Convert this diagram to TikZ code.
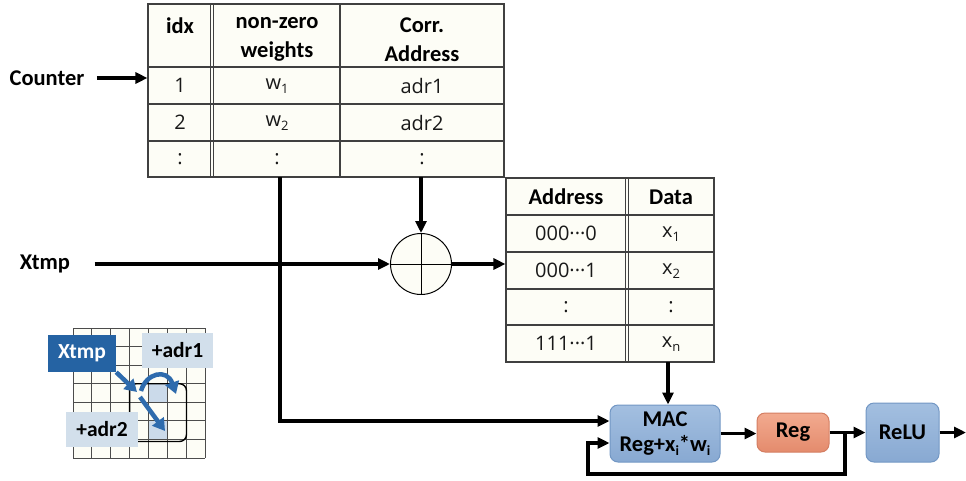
\documentclass[tikz,border=0pt]{standalone}
\usepackage{fontspec}
\setmainfont{Carlito}
\newfontfamily\bodyfont{Open Sans}
\usetikzlibrary{arrows.meta}
\definecolor{gridline}{HTML}{404040}
\definecolor{cellbg}{HTML}{FDFDF6}
\definecolor{macedge}{HTML}{7297C4}
\definecolor{mactop}{HTML}{A3BFE0}
\definecolor{macbot}{HTML}{88A9D2}
\definecolor{regedge}{HTML}{D47E62}
\definecolor{regtop}{HTML}{F2AA8F}
\definecolor{regbot}{HTML}{E48B6D}
\definecolor{xtmpblue}{HTML}{2563A3}
\definecolor{adrbg}{HTML}{D2DFEB}
\definecolor{cellshade}{HTML}{CBDAEA}
\definecolor{flow}{HTML}{2E6BAD}
\newcommand\lowsub[1]{\raisebox{-4pt}{\fontsize{13}{13}\selectfont #1}}
\newcommand\boldsub[1]{\raisebox{-4pt}{\fontsize{14}{14}\selectfont #1}}
\begin{document}
\begin{tikzpicture}[x=1pt,y=-1pt,
  conn/.style={line width=3.2pt, -{Triangle[length=12pt,width=11pt]}},
  tbl/.style={draw=gridline, line width=1.1pt, fill=cellbg, inner sep=0pt},
  gridln/.style={draw=gridline, line width=1.1pt},
  head/.style={font=\bfseries\fontsize{22.5}{29}\selectfont, align=center},
  cell/.style={font=\bodyfont\fontsize{20}{22}\selectfont, text=black!90},
  lbl/.style={font=\bfseries\fontsize{22.5}{24}\selectfont},
  block/.style={rounded corners=8pt, line width=1pt, inner sep=0pt,
    font=\bfseries\fontsize{22.5}{27}\selectfont, align=center},
  insetgrid/.style={draw=black!70, line width=0.8pt},
  tag/.style={inner sep=0pt, font=\bfseries\fontsize{21.5}{24}\selectfont},
  flowarrow/.style={draw=flow, line width=4.5pt, -{Triangle[length=12pt,width=14pt]}},
]
\useasboundingbox (0,0) rectangle (966,480);

% ---- weight table ----
\node[tbl, minimum width=356pt, minimum height=173pt] (wt) at (326,90.5) {};
\foreach \yy in {67,104,141} \draw[gridln] (148,\yy) -- (504,\yy);
\draw[gridln] (210.5,4) -- (210.5,177);
\draw[gridln] (213.5,4) -- (213.5,177);
\draw[gridln] (340,4) -- (340,177);
\node[head, anchor=north] (hidx) at (180,14) {idx};
\node[head, anchor=north] (hw) at (277,14) {non-zero\\weights};
\node[head, anchor=north] (hadr) at (422,14) {Corr.\\Address};
\node[cell] (i1) at (180,85.5) {1};
\node[cell] (w1) at (277,86.5) {w\lowsub{1}};
\node[cell] (a1) at (422,85.5) {adr1};
\node[cell] (i2) at (180,122.5) {2};
\node[cell] (w2) at (277,123.5) {w\lowsub{2}};
\node[cell] (a2) at (422,122.5) {adr2};
\node[cell] (i3) at (180,159) {:};
\node[cell] (w3) at (277,159) {:};
\node[cell] (a3) at (422,159) {:};

% ---- counter input ----
\node[lbl] (counter) at (47,78) {Counter};
\draw[conn] ([xshift=9pt]counter.east) -- (counter.east -| wt.west);

% ---- address adder ----
\node[circle, draw, line width=1pt, fill=cellbg, minimum size=61pt, inner sep=0pt] (adder) at (421,264) {};
\draw[line width=0.9pt] (adder.north) -- (adder.south);
\draw[line width=0.9pt] (adder.west) -- (adder.east);
\coordinate (aout) at (421,177);
\draw[conn] (aout) -- (adder.north);

\node[lbl] (xtmp) at (45,264) {Xtmp};
\draw[conn] ([xshift=21pt]xtmp.east) -- (adder.west);

% ---- data memory ----
\node[tbl, minimum width=208pt, minimum height=184pt] (mem) at (610,270) {};
\foreach \yy in {215,252,289,325} \draw[gridln] (506,\yy) -- (714,\yy);
\draw[gridln] (625.5,178) -- (625.5,362);
\draw[gridln] (628.5,178) -- (628.5,362);
\node[head] (haddr) at (566,197) {Address};
\node[head] (hdata) at (671,197) {Data};
\node[cell] (m1) at (566,233.5) {000···0};
\node[cell] (x1) at (671,234.5) {x\lowsub{1}};
\node[cell] (m2) at (566,270.5) {000···1};
\node[cell] (x2) at (671,271.5) {x\lowsub{2}};
\node[cell] (m3) at (566,307) {:};
\node[cell] (x3) at (671,307) {:};
\node[cell] (m4) at (566,343.5) {111···1};
\node[cell] (xn) at (671,344.5) {x\lowsub{n}};
\draw[conn] (adder.east) -- (adder.east -| mem.west);

% ---- MAC / Reg / ReLU ----
\node[block, draw=macedge, top color=mactop, bottom color=macbot,
  minimum width=110pt, minimum height=57pt] (mac) at (665,433.5)
  {MAC\\[-2pt]Reg+x\boldsub{i}*w\boldsub{i}};
\node[block, draw=regedge, top color=regtop, bottom color=regbot,
  minimum width=72pt, minimum height=39pt] (reg) at (793,432.5) {Reg};
\node[block, draw=macedge, top color=mactop, bottom color=macbot,
  minimum width=73pt, minimum height=59pt] (relu) at (902.5,432.5) {ReLU};

\coordinate (wout) at (280,177);
\draw[conn] (wout) |- ([yshift=12.5pt]mac.west);
\coordinate (dout) at (668,362);
\draw[conn] (dout) -- (dout |- mac.north);
\draw[conn] (mac.east) -- (mac.east -| reg.west);
\draw[conn] (reg.east) -- (relu.west);
\path (reg.east) -- (relu.west) coordinate[pos=0.43] (tap);
\coordinate (fb) at (588,474);
\draw[conn, line join=miter] (tap) |- (fb) |- ([yshift=-9.5pt]mac.west);
\coordinate (out) at (966,432.5);
\draw[conn] (relu.east) -- (out);

% ---- inset: address offsets on the input map ----
\fill[cellbg] (73,328) rectangle (205,458);
\fill[cellshade] (148.4,383.7) rectangle (167.3,402.3);
\fill[cellshade] (148.4,420.9) rectangle (167.3,439.4);
\foreach \i in {0,...,7} {
  \draw[insetgrid] ({73+\i*18.857},328) -- ({73+\i*18.857},458);
  \draw[insetgrid] (73,{328+\i*18.571}) -- (205,{328+\i*18.571});
}
\draw[line width=1.4pt, rounded corners=7pt] (129.6,383.7) rectangle (186.5,441.5);
\node[tag, fill=xtmpblue, text=white, minimum width=68pt, minimum height=37pt] (ixt) at (82,353.5) {Xtmp};
\node[tag, fill=adrbg, minimum width=71pt, minimum height=35pt] (iad1) at (177.5,350.5) {+adr1};
\node[tag, fill=adrbg, minimum width=72pt, minimum height=35pt] (iad2) at (102,429.5) {+adr2};
\coordinate (hit0) at (137,392);
\coordinate (fork1) at (141,391);
\coordinate (hit1) at (176,394);
\coordinate (fork2) at (140,397);
\coordinate (hit2) at (165,431);
\draw[flowarrow] (ixt.south east) -- (hit0);
\draw[flowarrow] (fork1) .. controls (146,373) and (167,368) .. (hit1);
\draw[flowarrow] (fork2) -- (hit2);
\end{tikzpicture}
\end{document}
